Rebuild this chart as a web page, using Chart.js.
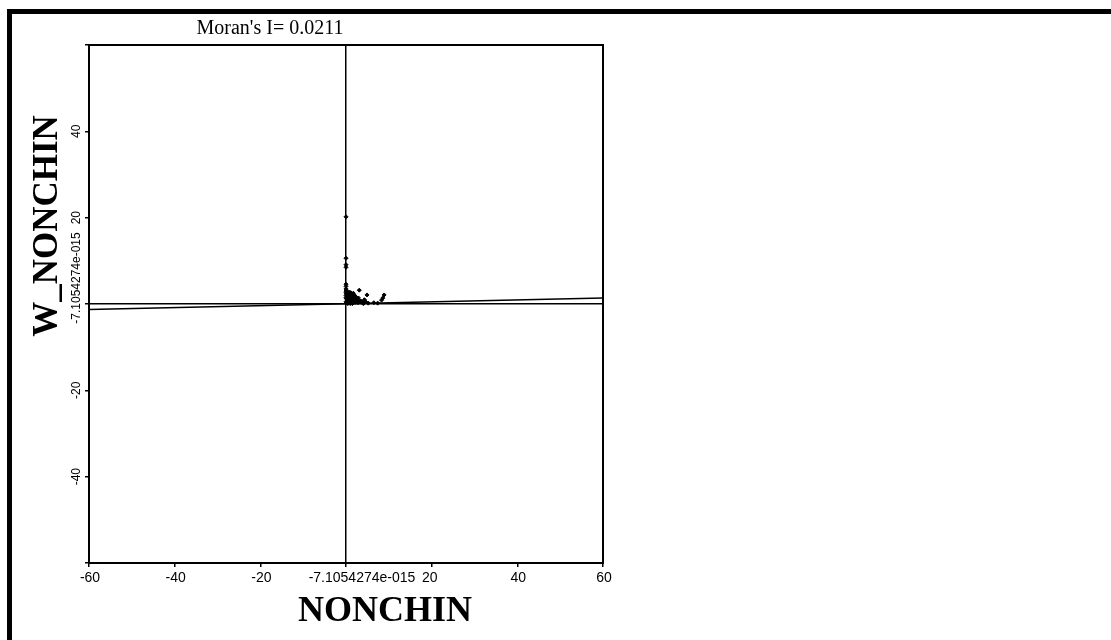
<!DOCTYPE html>
<html>
<head>
<meta charset="utf-8">
<script src="https://cdn.jsdelivr.net/npm/chart.js@4.4.1/dist/chart.umd.min.js"></script>
<style>
  html, body { margin: 0; padding: 0; background: #fff; }
  #wrap { width: 1111px; height: 640px; position: relative; }
</style>
</head>
<body>
<div id="wrap"><canvas id="c" width="1111" height="640"></canvas></div>
<script>
// ---- data ----
const titleText = "Moran's I= 0.0211";
const xAxisTitle = 'NONCHIN';
const yAxisTitle = 'W_NONCHIN';
const xTickValues = [-60, -40, -20, 0, 20, 40, 60];
const xTickLabels = ['-60', '-40', '-20', '-7.1054274e-015', '20', '40', '60'];
const yTickValues = [40, 20, 0, -20, -40];
const yTickLabels = ['40', '20', '-7.1054274e-015', '-20', '-40'];

// NONCHIN (x) and W_NONCHIN (y) observations
const nonchin  = [0, 0, 0, 0, 0, 0, 0, 0, 0, 0, 0, 0, 0.1, 0.1, 0.2, 0.5, 0.8, 1.0, 1.3, 1.6, 0.3, 0.7, 1.1, 1.9, 2.2, 2.5, 0.4, 1.4, 2.8, 2.0, 3.1, 3.6, 3.9, 4.3, 4.6, 4.9, 5.2, 6.5, 7.4, 8.3, 8.6, 8.9,
                  0.3, 0.6, 0.9, 1.2, 1.5, 1.8, 2.1, 2.4, 0.2, 0.5, 0.8, 1.1, 1.4, 1.7, 2.0, 2.3, 2.6, 0.4, 0.9, 1.3, 1.7, 2.9, 3.3, 0.6, 1.0, 1.5, 2.7, 4.1];
const wNonchin = [20.2, 10.6, 9.1, 8.5, 4.6, 4.1, 2.0, 1.5, 0.5, 3.0, 2.6, 3.5, 2.4, 1.2, 0.3, 0.8, 0.4, 1.2, 0.6, 1.5, 1.8, 2.2, 2.6, 0.9, 0.4, 1.1, 0.1, 0.2, 0.3, 2.0, 3.2, 0.6, 0.2, 1.0, 0.5, 2.1, 0.2, 0.3, 0.2, 0.9, 1.4, 2.1,
                  0.5, 0.3, 0.9, 0.4, 1.0, 0.3, 1.3, 0.7, 1.4, 2.0, 1.6, 2.0, 1.9, 1.1, 0.6, 1.6, 0.8, 2.9, 2.7, 2.3, 2.5, 1.4, 0.7, 0.2, 0.1, 0.1, 0.6, 0.1];

// fitted line endpoints
const fitX = [-60, 60];
const fitY = [-1.3, 1.4];

const points = nonchin.map((v, i) => ({ x: v, y: wNonchin[i] }));
const fitLine = fitX.map((v, i) => ({ x: v, y: fitY[i] }));

const decor = {
  id: 'decor',
  afterDraw(chart) {
    const { ctx, chartArea: a, scales: { x, y } } = chart;
    ctx.save();
    // outer frame (top and left)
    ctx.fillStyle = '#000';
    ctx.fillRect(7, 9, 1104, 5);
    ctx.fillRect(7, 9, 5, 631);
    // plot box
    ctx.lineWidth = 2;
    ctx.strokeStyle = '#000';
    ctx.strokeRect(a.left, a.top, a.right - a.left, a.bottom - a.top);

    // title
    ctx.fillStyle = '#000';
    ctx.font = '20px "Liberation Serif"';
    ctx.textAlign = 'center';
    ctx.textBaseline = 'alphabetic';
    ctx.fillText(titleText, 270, 34);

    // x tick labels
    ctx.font = '14px "Liberation Sans"';
    xTickValues.forEach((v, i) => {
      let px = x.getPixelForValue(v);
      if (v === 0) px += 15;
      else if (v === 20) px -= 3;
      ctx.fillText(xTickLabels[i], px + 1, 582);
    });

    // y tick labels (rotated)
    ctx.font = '12px "Liberation Sans"';
    yTickValues.forEach((v, i) => {
      let py = y.getPixelForValue(v);
      if (v === 0) py -= 26;
      ctx.save();
      ctx.translate(80, py);
      ctx.rotate(-Math.PI / 2);
      ctx.fillText(yTickLabels[i], 0, 0);
      ctx.restore();
    });

    // axis titles
    ctx.font = 'bold 36px "Liberation Serif"';
    ctx.fillText(xAxisTitle, 385, 621);
    ctx.font = 'bold 35px "Liberation Serif"';
    ctx.save();
    ctx.translate(57, 226);
    ctx.rotate(-Math.PI / 2);
    ctx.fillText(yAxisTitle, 0, 0);
    ctx.restore();
    ctx.restore();
  }
};

const gridOpts = {
  color: c => (c.tick && c.tick.value === 0) ? '#000' : 'rgba(0,0,0,0)',
  lineWidth: 1.5,
  tickColor: '#000',
  tickLength: 4,
  drawTicks: true
};

new Chart(document.getElementById('c'), {
  type: 'scatter',
  data: {
    datasets: [
      {
        type: 'line',
        data: fitLine,
        borderColor: '#000',
        borderWidth: 1.5,
        pointRadius: 0,
        fill: false
      },
      {
        data: points,
        pointStyle: 'rectRot',
        pointRadius: 2,
        backgroundColor: '#000',
        borderColor: '#000',
        borderWidth: 1
      }
    ]
  },
  options: {
    responsive: false,
    animation: false,
    devicePixelRatio: 1,
    layout: { padding: { left: 85, right: 508, top: 45, bottom: 73 } },
    plugins: { legend: { display: false }, tooltip: { enabled: false }, title: { display: false } },
    scales: {
      x: {
        type: 'linear', min: -60, max: 60,
        ticks: { display: false, stepSize: 20 },
        grid: gridOpts,
        border: { display: false },
        afterFit: s => { s.height = 4; }
      },
      y: {
        type: 'linear', min: -60, max: 60,
        ticks: { display: false, stepSize: 20 },
        grid: gridOpts,
        border: { display: false },
        afterFit: s => { s.width = 4; }
      }
    }
  },
  plugins: [decor]
});
</script>
</body>
</html>
